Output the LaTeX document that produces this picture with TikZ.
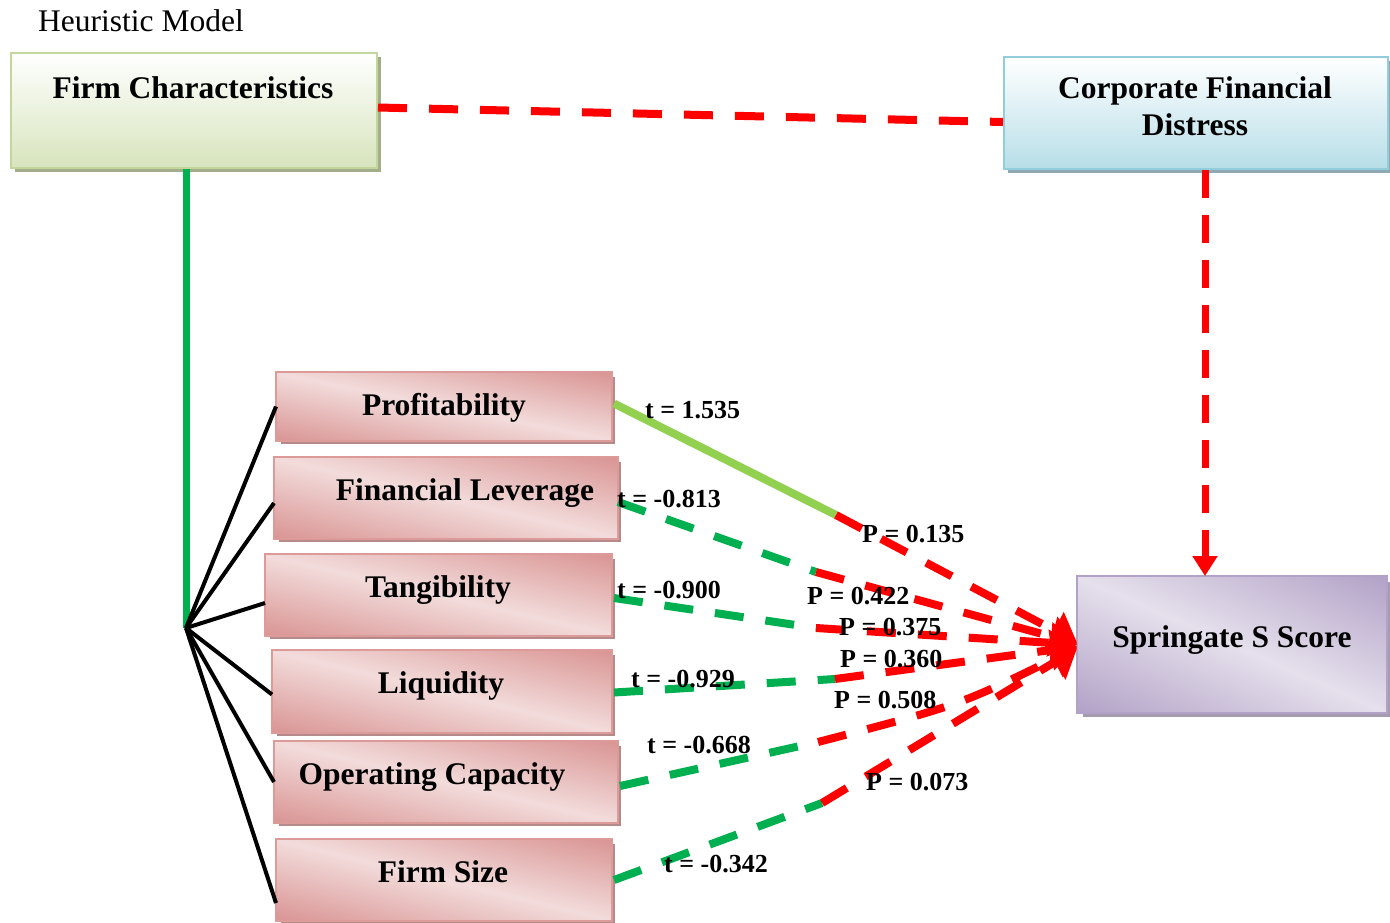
\documentclass[tikz,border=0pt]{standalone}
\usepackage{fontspec}
\setmainfont{Liberation Serif}
\usetikzlibrary{shadows,calc,arrows.meta}
\definecolor{gedge}{HTML}{C3D69B}
\definecolor{gbot}{HTML}{D7E4BD}
\definecolor{gshadow}{HTML}{A3AD8C}
\definecolor{bedge}{HTML}{93CDDD}
\definecolor{bbot}{HTML}{B7DEE8}
\definecolor{bshadow}{HTML}{8FA9B2}
\definecolor{pedge}{HTML}{DC9A99}
\definecolor{pdark}{HTML}{D99594}
\definecolor{plight}{HTML}{F2DCDB}
\definecolor{pshadow}{HTML}{B58A8A}
\definecolor{uedge}{HTML}{B3A2C7}
\definecolor{udark}{HTML}{B3A2C7}
\definecolor{ulight}{HTML}{E5E0EC}
\definecolor{ushadow}{HTML}{A59CAE}
\definecolor{gline}{HTML}{00B050}
\definecolor{lgline}{HTML}{92D050}
\definecolor{rline}{HTML}{FF0000}
% diagonal shading of a box: #1 node, #2 angle, #3 half depth, #4 dark, #5 light, #6 edge
\newcommand\dshadebox[6]{%
  \begin{scope}
    \clip (#1.south west) rectangle (#1.north east);
    \shade[transform canvas={shift={(#1.center)}, rotate=#2},
      top color=#4, bottom color=#4, middle color=#5] (-400pt,-#3) rectangle (400pt,#3);
  \end{scope}
  \draw[#6, line width=2pt] (#1.south west) rectangle (#1.north east);}
\begin{document}
\begin{tikzpicture}[x=1pt,y=-1pt,
  box/.style={draw, line width=2pt, inner sep=0pt},
  gbox/.style={box, draw=gedge, top color=white, bottom color=gbot,
    drop shadow={shadow xshift=4pt, shadow yshift=-4pt, fill=gshadow, opacity=1}},
  bbox/.style={box, draw=bedge, top color=white, bottom color=bbot,
    drop shadow={shadow xshift=4pt, shadow yshift=-4pt, fill=bshadow, opacity=1}},
  pbox/.style={box, draw=pedge, fill=plight,
    drop shadow={shadow xshift=4pt, shadow yshift=-4pt, fill=pshadow, opacity=1}},
  ubox/.style={box, draw=uedge, fill=ulight,
    drop shadow={shadow xshift=5pt, shadow yshift=-5pt, fill=ushadow, opacity=1}},
  ttl/.style={font=\fontsize{31.5}{38}\selectfont\bfseries, anchor=base, inner sep=0pt},
  lbl/.style={font=\fontsize{26}{30}\selectfont\bfseries, anchor=base west, inner sep=0pt},
  hubline/.style={line width=4pt, black},
  gdash/.style={line width=8pt, gline, dash pattern=on 29pt off 22pt},
  rdash/.style={line width=8pt, rline, dash pattern=on 29pt off 22pt},
  bigtip/.style={-{Triangle[length=26pt,width=40pt]}}
]
\useasboundingbox (0,0) rectangle (1390,922);

% boxes
\node[gbox, minimum width=366pt, minimum height=115pt] (fc) at (194,110.5) {};
\node[bbox, minimum width=384pt, minimum height=112pt] (cfd) at (1196,113) {};
\node[ubox, minimum width=308pt, minimum height=135pt] (ss) at (1232,644.5) {};
\node[pbox, minimum width=334pt, minimum height=67pt] (prof) at (444,406.5) {};
\node[pbox, minimum width=342pt, minimum height=80pt] (lev) at (446,498) {};
\node[pbox, minimum width=345pt, minimum height=80pt] (tang) at (438.5,595) {};
\node[pbox, minimum width=338pt, minimum height=81pt] (liq) at (442,691.5) {};
\node[pbox, minimum width=342pt, minimum height=80pt] (opc) at (446,782) {};
\node[pbox, minimum width=334pt, minimum height=80pt] (size) at (444,880) {};
\dshadebox{ss}{-23.7}{123pt}{udark}{ulight}{uedge}
\dshadebox{prof}{-11.3}{66pt}{pdark}{plight}{pedge}
\dshadebox{lev}{-13.2}{78pt}{pdark}{plight}{pedge}
\dshadebox{tang}{-13.0}{78pt}{pdark}{plight}{pedge}
\dshadebox{liq}{-13.5}{79pt}{pdark}{plight}{pedge}
\dshadebox{opc}{-13.2}{78pt}{pdark}{plight}{pedge}
\dshadebox{size}{-13.5}{78pt}{pdark}{plight}{pedge}

% titles
\node[font=\fontsize{31.5}{38}\selectfont, anchor=base west, inner sep=0pt] (head) at (38,31) {Heuristic Model};
\node[ttl] (tfc) at (193,98) {Firm Characteristics};
\node[ttl] (tcfd1) at (1195,98) {Corporate Financial};
\node[ttl] (tcfd2) at (1195,135) {Distress};
\node[ttl] (tss) at (1232,647) {Springate S Score};
\node[ttl] (tprof) at (444,415) {Profitability};
\node[ttl] (tlev) at (465,500) {Financial Leverage};
\node[ttl] (ttang) at (438,597) {Tangibility};
\node[ttl] (tliq) at (441,693) {Liquidity};
\node[ttl] (topc) at (432,784) {Operating Capacity};
\node[ttl] (tsize) at (443,882) {Firm Size};

% coordinates
\coordinate (hub) at (186,628);
\coordinate (vx) at (1205,0);
\coordinate (m1) at (836,515);
\coordinate (m2) at (816,572);
\coordinate (m3) at (816,628);
\coordinate (m4) at (835,679);
\coordinate (m5) at (818,742);
\coordinate (m6) at (822,803);

% firm characteristics to hub
\draw[line width=7pt, gline] (fc.south -| hub) -- (hub);
\draw[hubline] (hub) -- (prof.west);
\draw[hubline] (hub) -- ($(lev.west)+(0,5)$);
\draw[hubline] (hub) -- ($(tang.west)+(0,8)$);
\draw[hubline] (hub) -- ($(liq.west)+(0,3)$);
\draw[hubline] (hub) -- (opc.west);
\draw[hubline] (hub) -- ($(size.west)+(0,23)$);

% top and vertical red
\draw[rdash] ($(fc.east)+(0,-3)$) -- ($(cfd.west)+(0,9)$);
\draw[rdash, line width=7pt, dash pattern=on 28pt off 17pt, -{Triangle[length=20pt,width=24pt]}] (cfd.south -| vx) -- (ss.north -| vx);

% factor connectors
\draw[line width=8pt, lgline] ($(prof.east)+(2,-3)$) -- (m1);
\draw[rdash, bigtip] (m1) -- ($(ss.west)+(0,-2)$);
\draw[gdash] ($(lev.east)+(0,4)$) -- (m2);
\draw[rdash, bigtip] (m2) -- ($(ss.west)+(0,-1)$);
\draw[gdash] ($(tang.east)+(2,3)$) -- (m3);
\draw[rdash, bigtip] (m3) -- (ss.west);
\draw[gdash] ($(liq.east)+(2,1)$) -- (m4);
\draw[rdash, bigtip] (m4) -- ($(ss.west)+(0,2)$);
\draw[gdash] ($(opc.east)+(2,4)$) -- (m5);
\draw[rdash, bigtip] (m5) .. controls (960,705) .. ($(ss.west)+(0,3)$);
\draw[gdash] ($(size.east)+(2,0)$) -- (m6);
\draw[rdash, bigtip] (m6) -- ($(ss.west)+(0,4)$);

% labels
\node[lbl] (l1) at (645,418) {t = 1.535};
\node[lbl] (l2) at (617,507) {t = -0.813};
\node[lbl] (l3) at (862,542) {P = 0.135};
\node[lbl] (l4) at (617,598) {t = -0.900};
\node[lbl] (l5) at (807,604) {P = 0.422};
\node[lbl] (l6) at (839,635) {P = 0.375};
\node[lbl] (l7) at (840,667) {P = 0.360};
\node[lbl] (l8) at (631,687) {t = -0.929};
\node[lbl] (l9) at (834,708) {P = 0.508};
\node[lbl] (l10) at (647,753) {t = -0.668};
\node[lbl] (l11) at (866,790) {P = 0.073};
\node[lbl] (l12) at (664,872) {t = -0.342};
\end{tikzpicture}
\end{document}
